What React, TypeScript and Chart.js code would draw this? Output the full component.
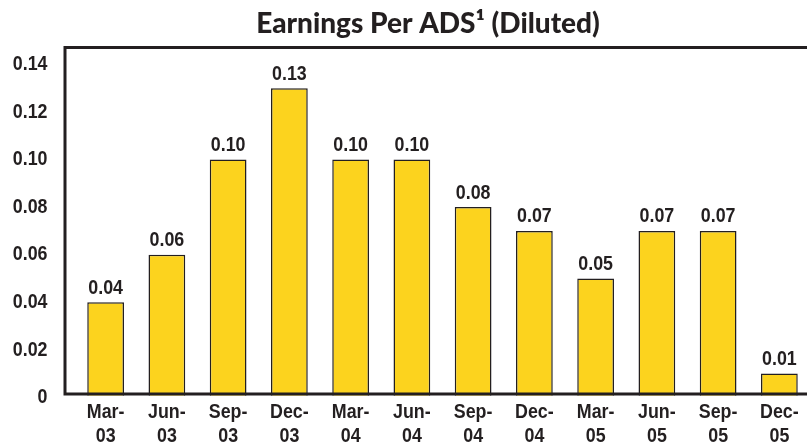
import React, { useEffect, useRef } from "react";
import { Chart, registerables } from "chart.js";

Chart.register(...registerables);

const categories: string[][] = [
  ["Mar-", "03"], ["Jun-", "03"], ["Sep-", "03"], ["Dec-", "03"],
  ["Mar-", "04"], ["Jun-", "04"], ["Sep-", "04"], ["Dec-", "04"],
  ["Mar-", "05"], ["Jun-", "05"], ["Sep-", "05"], ["Dec-", "05"],
];
const earningsPerADS = [0.04, 0.06, 0.10, 0.13, 0.10, 0.10, 0.08, 0.07, 0.05, 0.07, 0.07, 0.01];
const dataLabels = ["0.04", "0.06", "0.10", "0.13", "0.10", "0.10", "0.08", "0.07", "0.05", "0.07", "0.07", "0.01"];
const yTickValues = [0, 0.02, 0.04, 0.06, 0.08, 0.1, 0.12, 0.14];
const yTickLabels = ["0", "0.02", "0.04", "0.06", "0.08", "0.10", "0.12", "0.14"];
const chartTitle = "Earnings Per ADS\u00B9 (Diluted)";

const DARK = "#231F20";
const BAR = "#FCD31E";
const labelFont = "bold 21px 'Liberation Sans', Arial, sans-serif";
const SQUEEZE = 0.85;
const titleFont = "900 28px Lato, 'Open Sans', sans-serif";

function drawNarrow(ctx: CanvasRenderingContext2D, text: string, x: number, y: number, align: CanvasTextAlign, baseline: CanvasTextBaseline) {
  ctx.save();
  ctx.translate(x, y);
  ctx.scale(SQUEEZE, 1);
  ctx.textAlign = align;
  ctx.textBaseline = baseline;
  ctx.fillText(text, 0, 0);
  ctx.restore();
}

const framePlugin = {
  id: "frame",
  afterDatasetsDraw(chart: any) {
    const { ctx, chartArea } = chart;
    const axisX = chartArea.left - 10;
    const topY = chartArea.top;
    const baseY = chartArea.bottom - 3.4;
    ctx.save();
    // hide bar bottoms below the axis line
    ctx.fillStyle = "#fff";
    ctx.fillRect(axisX, baseY + 1.5, chart.width - axisX, chartArea.bottom - baseY + 1);
    // frame lines
    ctx.strokeStyle = DARK;
    ctx.lineWidth = 3;
    ctx.lineCap = "butt";
    ctx.beginPath();
    ctx.moveTo(axisX, baseY + 1.5);
    ctx.lineTo(axisX, topY);
    ctx.moveTo(axisX - 1.5, topY);
    ctx.lineTo(chart.width, topY);
    ctx.moveTo(axisX - 1.5, baseY);
    ctx.lineTo(chart.width, baseY);
    ctx.stroke();

    ctx.fillStyle = DARK;
    ctx.font = labelFont;
    // y tick labels
    const yScale = chart.scales.y;
    yScale.ticks.forEach((t: any, i: number) => {
      drawNarrow(ctx, yTickLabels[i], 47.5, yScale.getPixelForValue(t.value), "right", "middle");
    });
    // x tick labels (two lines)
    const xScale = chart.scales.x;
    categories.forEach((lines, i) => {
      const x = xScale.getPixelForTick(i);
      drawNarrow(ctx, lines[0], x, xScale.top + 14.5, "center", "middle");
      drawNarrow(ctx, lines[1], x, xScale.top + 39, "center", "middle");
    });
    // value labels
    const meta = chart.getDatasetMeta(0);
    meta.data.forEach((bar: any, i: number) => {
      drawNarrow(ctx, dataLabels[i], bar.x, bar.y - 8.5, "center", "alphabetic");
    });
    // title
    ctx.font = titleFont;
    ctx.textAlign = "center";
    ctx.textBaseline = "alphabetic";
    ctx.fillText(chartTitle, 428, 33);
    ctx.restore();
  },
};

export default function App() {
  const ref = useRef<HTMLCanvasElement>(null);
  useEffect(() => {
    if (!ref.current) return;
    const chart = new Chart(ref.current, {
      type: "bar",
      data: {
        labels: categories,
        datasets: [
          {
            data: earningsPerADS,
            backgroundColor: BAR,
            borderColor: DARK,
            borderWidth: 1.5,
            barPercentage: 0.6,
            categoryPercentage: 1,
          },
        ],
      },
      options: {
        responsive: false,
        animation: false,
        devicePixelRatio: 1,
        layout: { padding: { top: 47.5, left: 0, right: 0, bottom: 0 } },
        plugins: {
          legend: { display: false },
          title: { display: false },
          tooltip: { enabled: false },
        },
        scales: {
          x: {
            grid: { display: false, drawTicks: false },
            border: { display: false },
            ticks: { display: false, autoSkip: false },
            afterFit: (s: any) => {
              s.height = 47.6;
            },
          },
          y: {
            min: 0,
            max: 0.1471,
            grid: { display: false, drawTicks: false },
            border: { display: false },
            afterBuildTicks: (s: any) => {
              s.ticks = yTickValues.map((v) => ({ value: v }));
            },
            ticks: { display: false },
            afterFit: (s: any) => {
              s.width = 75;
            },
          },
        },
      },
      plugins: [framePlugin],
    });
    return () => chart.destroy();
  }, []);
  return (
    <div style={{ position: "fixed", left: 0, top: 0, width: 807, height: 445, overflow: "hidden", background: "#fff" }}>
      <canvas ref={ref} width={810} height={445} style={{ display: "block", width: 810, height: 445 }} />
    </div>
  );
}
